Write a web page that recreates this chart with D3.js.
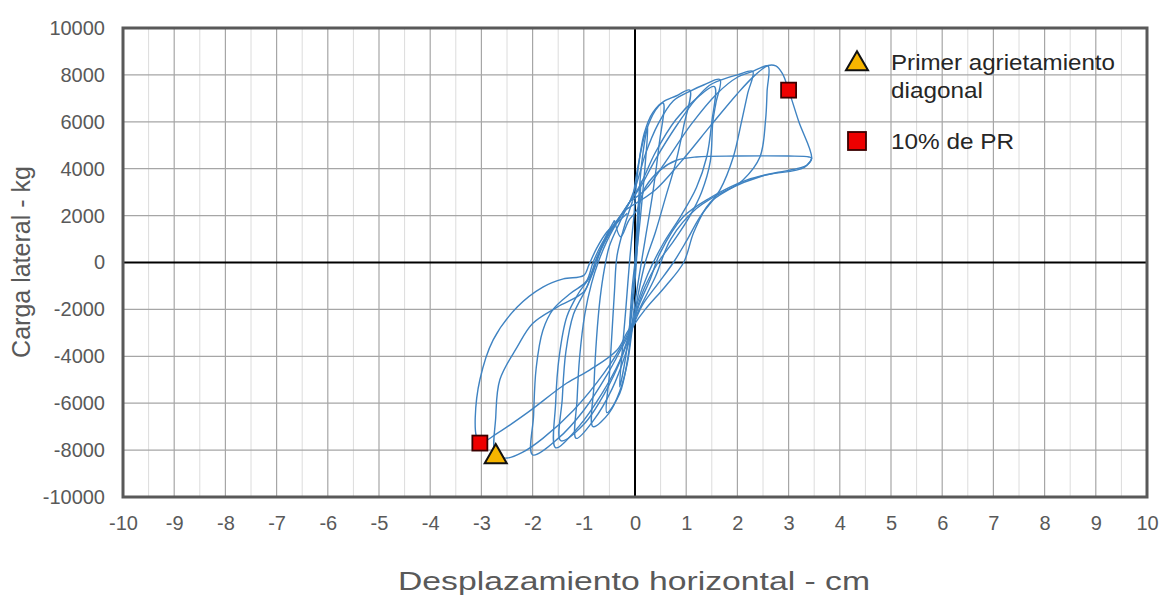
<!DOCTYPE html>
<html><head><meta charset="utf-8">
<script src="https://cdn.jsdelivr.net/npm/d3@7"></script>
<style>
html,body{margin:0;padding:0;background:#fff;}
svg{display:block;font-family:"Liberation Sans",Arial,sans-serif;}
</style></head>
<body>
<svg id="chart" width="1162" height="599"></svg>
<script>
// ---- data (x: cm, y: kg) ----
const xTicks = [-10,-9,-8,-7,-6,-5,-4,-3,-2,-1,0,1,2,3,4,5,6,7,8,9,10];
const yTicks = [-10000,-8000,-6000,-4000,-2000,0,2000,4000,6000,8000,10000];

const cycle0 = [[0,0],[0.08,2500],[0.12,3500],[0.06,1200],[0,-800],[-0.08,-2500],[-0.12,-3400],[-0.06,-1200],[0,0]];
const cycle1 = [[0,0],[0.05,2000],[0.12,4000],[0.2,5300],[0.25,5800],[0.2,4200],[0.1,1800],[0,-300],[-0.08,-2200],[-0.18,-4000],[-0.3,-5300],[-0.25,-3800],[-0.18,-2000],[-0.1,200],[-0.02,2000]];
const cycle2 = [[-0.02,2000],[0.05,3800],[0.18,5500],[0.35,6400],[0.55,6800],[0.47,5000],[0.35,3000],[0.2,1000],[0.05,-1000],[-0.05,-2500],[-0.15,-4200],[-0.3,-5600],[-0.55,-6400],[-0.5,-4800],[-0.45,-3000],[-0.4,-1200],[-0.35,300],[-0.2,1600],[-0.05,2600]];
const cycle3 = [[-0.05,2600],[0.05,4000],[0.2,5500],[0.4,6500],[0.55,6850],[0.8,7100],[1.07,7350],[0.95,5800],[0.8,4300],[0.6,2800],[0.4,1300],[0.2,0],[0.05,-1500],[-0.05,-2800],[-0.15,-4300],[-0.3,-5500],[-0.5,-6400],[-0.82,-7000],[-0.8,-5200],[-0.75,-3200],[-0.68,-1500],[-0.6,-300],[-0.5,700],[-0.3,1700],[-0.1,2600]];
const cycle4 = [[-0.1,2600],[0.05,3500],[0.2,4600],[0.45,5900],[0.75,6900],[1.07,7300],[1.35,7580],[1.66,7800],[1.58,6800],[1.52,6000],[1.47,4300],[1.3,3000],[1.05,1900],[0.75,900],[0.45,0],[0.2,-1000],[0.05,-1900],[-0.05,-2800],[-0.2,-4000],[-0.45,-5400],[-0.8,-6700],[-1.15,-7500],[-1.13,-5800],[-1.08,-4000],[-0.98,-2200],[-0.85,-900],[-0.72,0],[-0.55,900],[-0.3,1900],[-0.1,2600]];
const cycle4b = [[-0.1,2600],[0.1,3300],[0.4,4700],[0.8,6100],[1.2,7000],[1.55,7500],[1.5,6000],[1.4,4500],[1.2,3200],[0.9,2000],[0.55,800],[0.25,-500],[0.05,-1700],[-0.05,-2700],[-0.25,-4000],[-0.6,-5600],[-1.0,-6900],[-1.45,-7600],[-1.42,-5800],[-1.35,-3800],[-1.2,-2200],[-0.95,-1100],[-0.8,-300],[-0.65,600],[-0.4,1600],[-0.1,2600]];
const cycle5 = [[-0.1,2600],[0.1,3200],[0.4,4400],[0.8,5800],[1.2,7000],[1.45,7550],[1.7,7800],[2.0,8000],[2.3,8150],[2.2,7200],[2.08,6000],[1.92,4500],[1.66,3100],[1.27,1950],[1.0,900],[0.75,0],[0.45,-900],[0.15,-1800],[0,-2500],[-0.1,-3000],[-0.3,-4200],[-0.65,-5600],[-1.1,-7000],[-1.55,-7900],[-1.55,-6000],[-1.48,-4000],[-1.33,-2300],[-1.1,-1300],[-0.88,-600],[-0.75,200],[-0.55,1100],[-0.3,1900],[-0.1,2600]];
const cycle6 = [[-0.1,2600],[0.2,3100],[0.6,4300],[1.1,5900],[1.6,7200],[2.0,7900],[2.3,8150],[2.45,8300],[2.6,8380],[2.58,7300],[2.55,6070],[2.44,4500],[2.11,3520],[1.46,2540],[1.15,1300],[0.95,0],[0.6,-1000],[0.2,-2000],[0,-2600],[-0.2,-3400],[-0.55,-4800],[-1.0,-6300],[-1.5,-7500],[-2.0,-8200],[-1.98,-6500],[-1.93,-4500],[-1.8,-2900],[-1.6,-2000],[-1.25,-1300],[-0.95,-800],[-0.82,0],[-0.65,800],[-0.45,1500],[-0.2,2200],[0,2500]];
const cycle7 = [[0,2500],[0.4,3100],[0.9,4300],[1.5,5900],[2.0,7200],[2.35,8000],[2.6,8400],[2.75,8380],[2.88,8050],[3.0,7350],[3.2,6000],[3.45,4450],[3.36,4160],[3.16,4000],[2.8,3850],[2.19,3520],[1.46,2750],[0.94,1940],[0.49,400],[0.3,-700],[0.1,-1700],[0,-2300],[-0.2,-3300],[-0.6,-4700],[-1.2,-6300],[-1.8,-7500],[-2.2,-8100],[-2.5,-8340],[-2.72,-8200],[-2.72,-6600],[-2.64,-5000],[-2.3,-3600],[-2.0,-2600],[-1.52,-1900],[-1.0,-1250],[-0.85,-500],[-0.7,400],[-0.55,1200],[-0.4,1800]];
const cycle8 = [[-0.4,1800],[-0.28,1100],[-0.12,1800],[0.04,2240],[0.2,3200],[0.49,3940],[0.8,4350],[1.2,4500],[2.0,4540],[3.0,4540],[3.4,4500],[3.45,4450],[3.3,4050],[2.5,3700],[1.8,3100],[1.2,2300],[0.7,1000],[0.4,-600],[0.15,-1700],[-0.05,-2600],[-0.16,-3000],[-0.35,-3730],[-0.88,-4580],[-1.33,-5140],[-2.1,-6400],[-2.7,-7300],[-3.03,-7700],[-3.1,-7400],[-3.12,-6600],[-3.03,-5000],[-2.77,-3300],[-2.3,-1900],[-1.8,-1050],[-1.4,-700],[-1.0,-550],[-0.9,-100],[-0.75,600],[-0.55,1300],[-0.35,1700],[-0.15,2100]];
const cycles = [cycle0,cycle1,cycle2,cycle3,cycle4,cycle4b,cycle5,cycle6,cycle7,cycle8];

const crackPoints = [[-2.72,-8200]];        // Primer agrietamiento diagonal
const pr10Points = [[3.0,7350],[-3.03,-7700]]; // 10% de PR
const legendLabels = [["Primer agrietamiento","diagonal"],["10% de PR"]];
const xTitle = "Desplazamiento horizontal - cm";
const yTitle = "Carga lateral - kg";

// ---- drawing ----
const svg = d3.select("#chart");
const L=123, R=1147, T=28, B=497;
const x = d3.scaleLinear().domain([-10,10]).range([L,R]);
const y = d3.scaleLinear().domain([-10000,10000]).range([B,T]);

const g = svg.append("g");
const minorX = d3.range(-19,20,2).map(v=>v/2);
g.selectAll("line.mx").data(minorX).join("line")
  .attr("x1",d=>x(d)).attr("x2",d=>x(d)).attr("y1",T).attr("y2",B)
  .attr("stroke","#dcdcdc").attr("stroke-width",1);
g.selectAll("line.vx").data(xTicks).join("line")
  .attr("x1",d=>x(d)).attr("x2",d=>x(d)).attr("y1",T).attr("y2",B)
  .attr("stroke","#a6a6a6").attr("stroke-width",1.2);
g.selectAll("line.hy").data(yTicks).join("line")
  .attr("x1",L).attr("x2",R).attr("y1",d=>y(d)).attr("y2",d=>y(d))
  .attr("stroke","#a6a6a6").attr("stroke-width",1.2);

g.append("line").attr("x1",x(0)).attr("x2",x(0)).attr("y1",T).attr("y2",B).attr("stroke","#000").attr("stroke-width",2);
g.append("line").attr("x1",L).attr("x2",R).attr("y1",y(0)).attr("y2",y(0)).attr("stroke","#000").attr("stroke-width",2);

const line = d3.line().x(d=>x(d[0])).y(d=>y(d[1])).curve(d3.curveCatmullRom.alpha(0.5));
svg.append("g").selectAll("path").data(cycles).join("path")
  .attr("d",line).attr("fill","none").attr("stroke","#3f83c2").attr("stroke-width",1.4)
  .attr("stroke-linejoin","round");

svg.append("rect").attr("x",L).attr("y",T).attr("width",R-L).attr("height",B-T)
  .attr("fill","none").attr("stroke","#595959").attr("stroke-width",3);

const xAxis = svg.append("g").attr("transform",`translate(0,${B})`)
  .call(d3.axisBottom(x).tickValues(xTicks).tickSize(0).tickPadding(19).tickFormat(d=>String(d)));
const yAxis = svg.append("g").attr("transform",`translate(${L},0)`)
  .call(d3.axisLeft(y).tickValues(yTicks).tickSize(0).tickPadding(18).tickFormat(d=>String(d)));
[xAxis,yAxis].forEach(a=>{
  a.select(".domain").remove();
  a.selectAll("text").attr("fill","#595959").style("font-size","20px").style("font-family","'Liberation Sans',Arial,sans-serif");
});

svg.append("text").attr("x",634).attr("y",590).attr("text-anchor","middle")
  .attr("fill","#595959").style("font-size","25px")
  .attr("textLength",472).attr("lengthAdjust","spacingAndGlyphs").text(xTitle);
svg.append("text").attr("transform","translate(30,262) rotate(-90)").attr("text-anchor","middle")
  .attr("fill","#595959").style("font-size","25px").text(yTitle);

const tri = d3.symbol().type(d3.symbolTriangle).size(210);
svg.selectAll("path.tri").data(crackPoints).join("path")
  .attr("transform",d=>`translate(${x(d[0])},${y(d[1])+2})`).attr("d",tri)
  .attr("fill","#f7b500").attr("stroke","#111").attr("stroke-width",2);
svg.selectAll("rect.sq").data(pr10Points).join("rect")
  .attr("x",d=>x(d[0])-7.5).attr("y",d=>y(d[1])-7.5).attr("width",15).attr("height",15)
  .attr("fill","#ee0000").attr("stroke","#3a0000").attr("stroke-width",1.8);

const lg = svg.append("g");
lg.append("path").attr("transform","translate(857,64)").attr("d",tri)
  .attr("fill","#f7b500").attr("stroke","#111").attr("stroke-width",2);
lg.append("rect").attr("x",848).attr("y",132).attr("width",18).attr("height",18)
  .attr("fill","#ee0000").attr("stroke","#3a0000").attr("stroke-width",1.8);
lg.append("text").attr("x",891).attr("y",70).attr("fill","#262626").style("font-size","22px")
  .attr("textLength",224).attr("lengthAdjust","spacingAndGlyphs").text(legendLabels[0][0]);
lg.append("text").attr("x",891).attr("y",98).attr("fill","#262626").style("font-size","22px")
  .attr("textLength",92).attr("lengthAdjust","spacingAndGlyphs").text(legendLabels[0][1]);
lg.append("text").attr("x",891).attr("y",149).attr("fill","#262626").style("font-size","22px")
  .attr("textLength",123).attr("lengthAdjust","spacingAndGlyphs").text(legendLabels[1][0]);
</script>
</body></html>
